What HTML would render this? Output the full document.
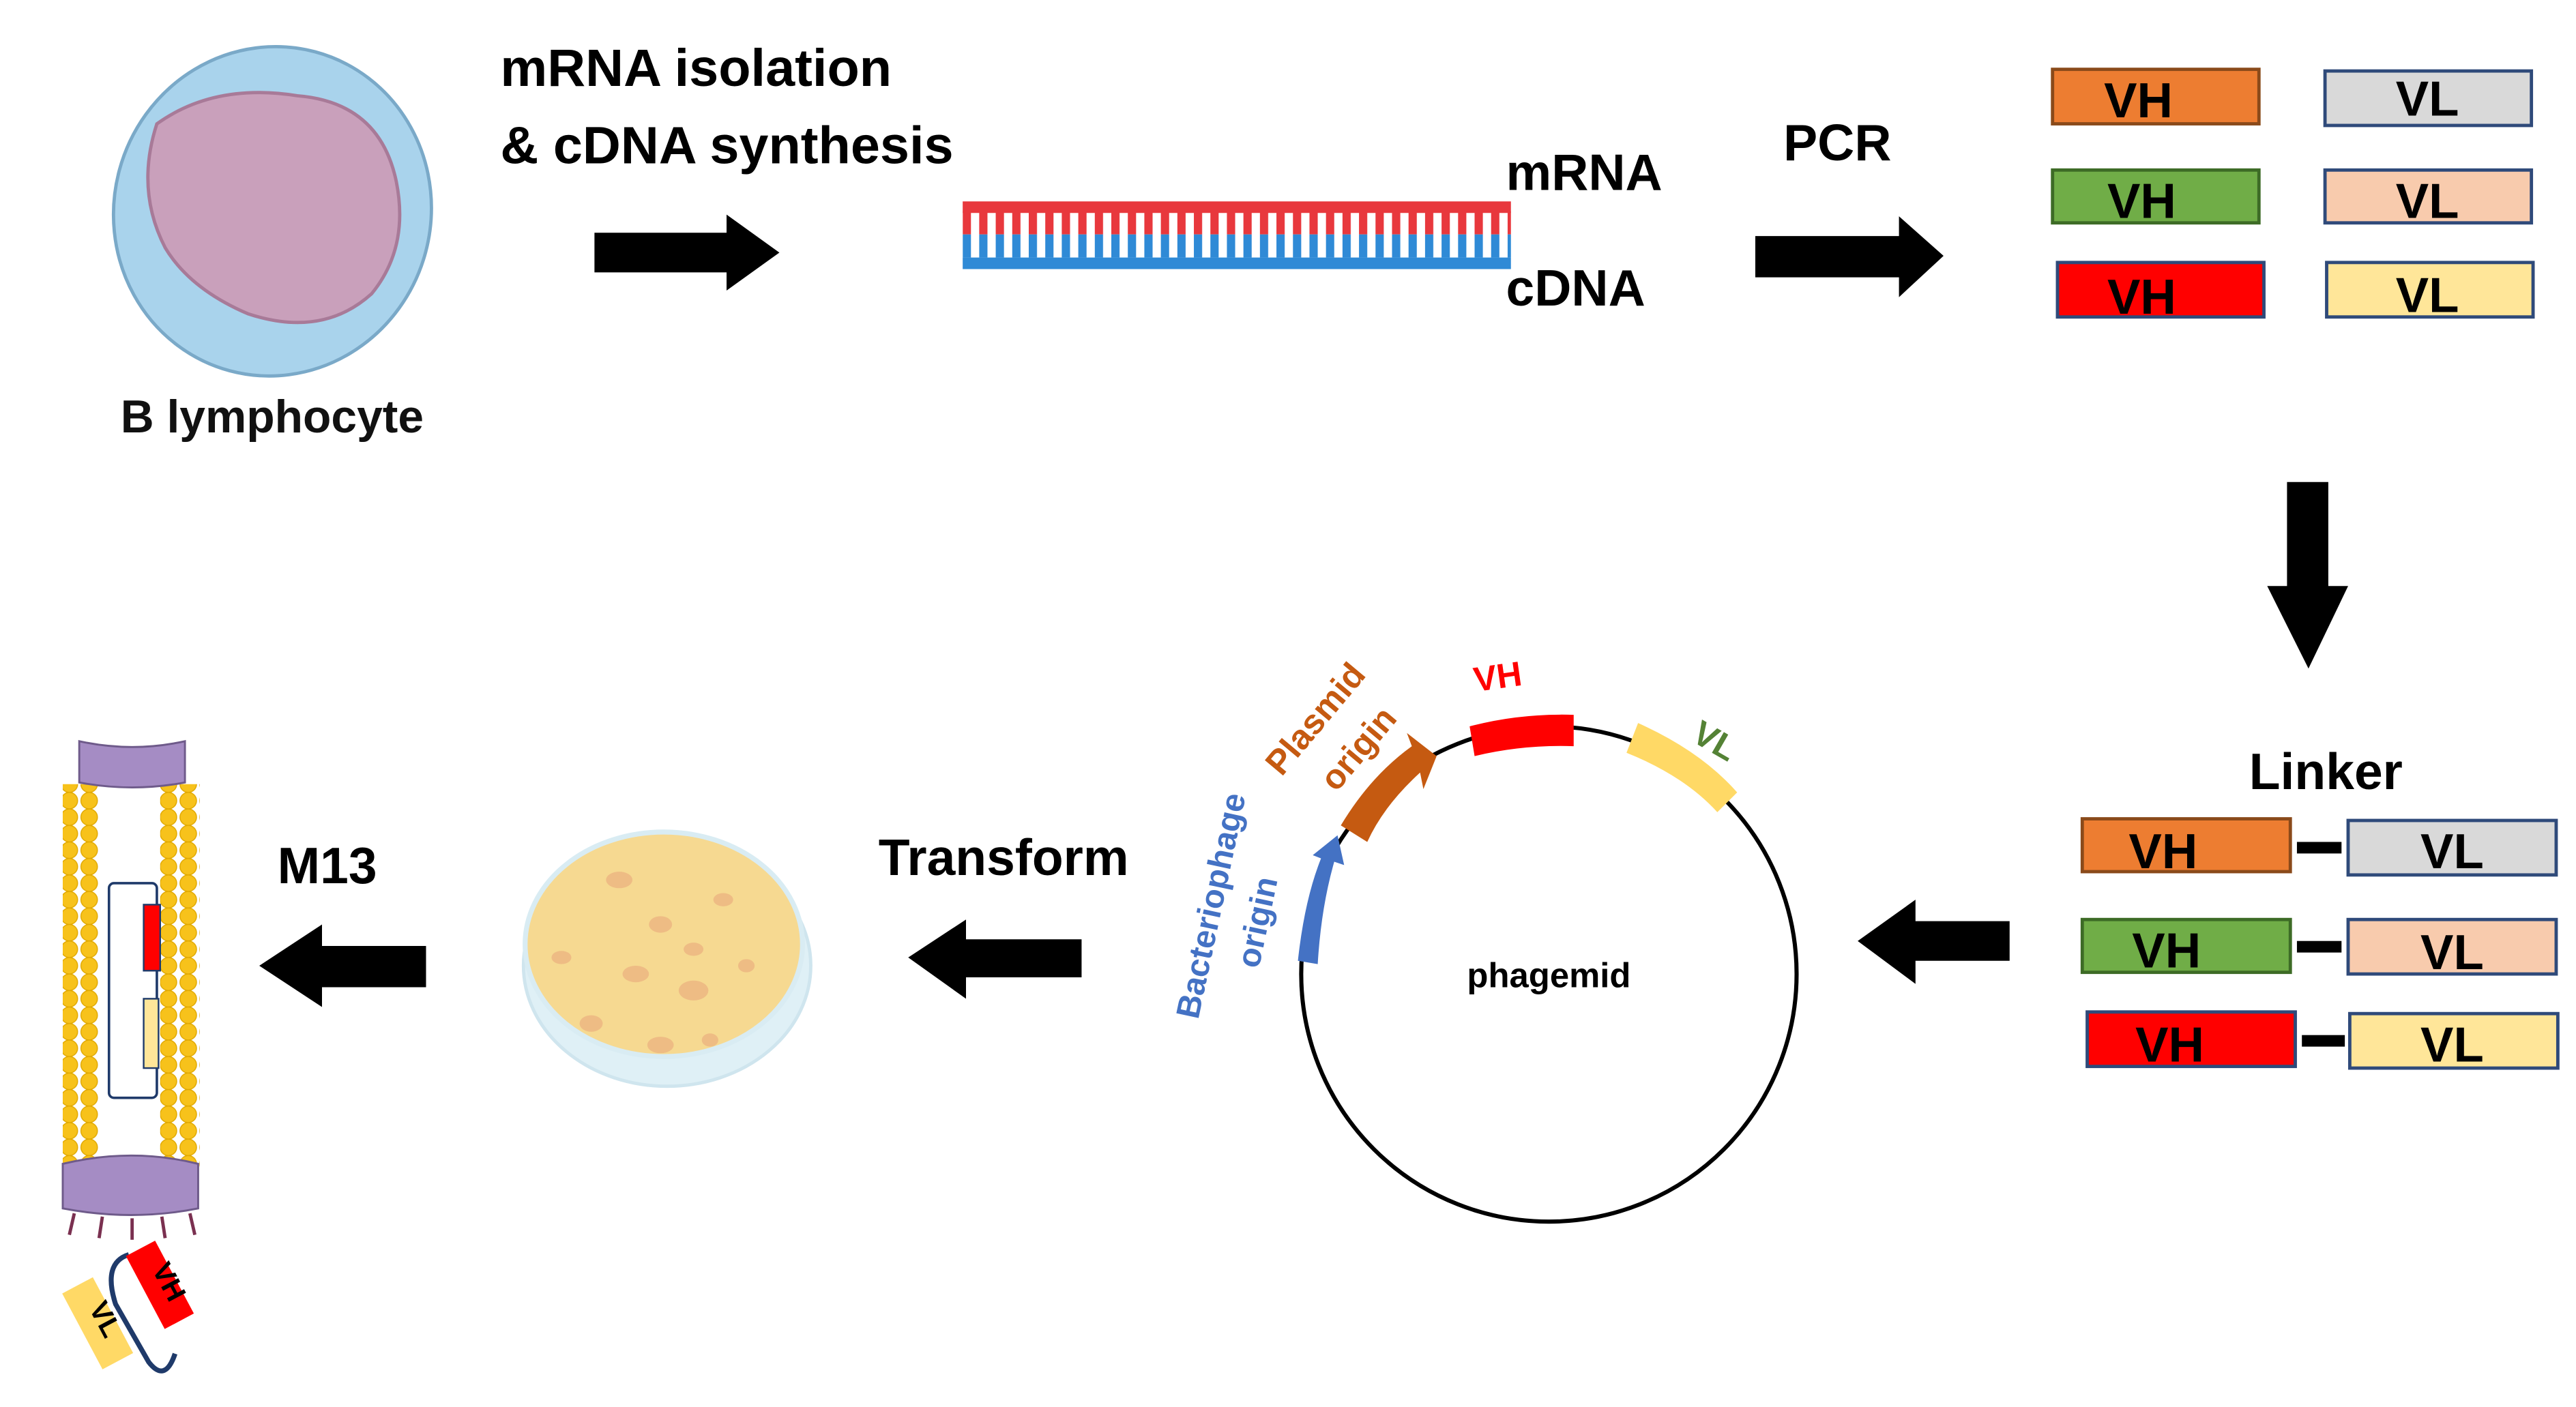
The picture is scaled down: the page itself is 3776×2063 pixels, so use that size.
<!DOCTYPE html>
<html><head><meta charset="utf-8"><style>
html,body{margin:0;padding:0;background:#fff;}
svg{display:block;}
text{font-family:"Liberation Sans",sans-serif;font-weight:bold;}
</style></head><body>
<svg width="3776" height="2063" viewBox="0 0 1560 852.3" preserveAspectRatio="none" xmlns="http://www.w3.org/2000/svg">
<defs>
<pattern id="teethR" x="583" y="0" width="10" height="40" patternUnits="userSpaceOnUse">
<rect x="0" y="0" width="5" height="40" fill="#e8383d"/>
</pattern>
<pattern id="teethB" x="583" y="0" width="10" height="40" patternUnits="userSpaceOnUse">
<rect x="0" y="0" width="5" height="40" fill="#2f8ad6"/>
</pattern>
<pattern id="beads" x="0" y="0" width="12" height="10" patternUnits="userSpaceOnUse">
<circle cx="6" cy="5" r="5" fill="#f7c21b" stroke="#e0a800" stroke-width="0.6"/>
</pattern>
</defs>
<rect width="1560" height="852.3" fill="#fff"/>

<!-- B lymphocyte -->
<ellipse cx="165" cy="128" rx="96" ry="100" fill="#a9d3ec" stroke="#7aa9c8" stroke-width="2" transform="rotate(15 165 128)"/>
<path d="M95 75 Q130 50 180 58 Q230 62 240 110 Q248 150 225 178 Q195 205 150 190 Q115 175 100 150 Q82 115 95 75Z" fill="#c9a0bb" stroke="#a87a98" stroke-width="2"/>
<text x="73" y="262" font-size="28" fill="#111">B lymphocyte</text>

<text x="303" y="52" font-size="32" fill="#000">mRNA isolation</text>
<text x="303" y="99" font-size="32" fill="#000">&amp; cDNA synthesis</text>

<polygon points="360,141 440,141 440,130 472,153 440,176 440,165 360,165" fill="#000"/>

<!-- DNA -->
<rect x="583" y="122" width="332" height="7" fill="#e8383d"/>
<rect x="583" y="128" width="332" height="14" fill="url(#teethR)"/>
<rect x="583" y="142" width="332" height="14" fill="url(#teethB)"/>
<rect x="583" y="156" width="332" height="7" fill="#2f8ad6"/>
<text x="912" y="115" font-size="31" fill="#000">mRNA</text>
<text x="912" y="185" font-size="31" fill="#000">cDNA</text>

<text x="1080" y="97" font-size="31" fill="#000">PCR</text>
<polygon points="1063,143 1150,143 1150,131 1177,155 1150,180 1150,168 1063,168" fill="#000"/>

<g stroke-width="2" font-size="30" text-anchor="middle">
<rect x="1243" y="42" width="125" height="33" fill="#ed7d31" stroke="#8a4a1a"/>
<rect x="1408" y="43" width="125" height="33" fill="#d9d9d9" stroke="#2f4a7a"/>
<rect x="1243" y="103" width="125" height="32" fill="#70ad47" stroke="#3d6b26"/>
<rect x="1408" y="103" width="125" height="32" fill="#f8cbad" stroke="#2f4a7a"/>
<rect x="1246" y="159" width="125" height="33" fill="#ff0000" stroke="#2f4a7a"/>
<rect x="1409" y="159" width="125" height="33" fill="#ffe699" stroke="#2f4a7a"/>
<text x="1295" y="71" fill="#000" stroke="none">VH</text>
<text x="1470" y="70" fill="#000" stroke="none">VL</text>
<text x="1297" y="132" fill="#000" stroke="none">VH</text>
<text x="1470" y="132" fill="#000" stroke="none">VL</text>
<text x="1297" y="190" fill="#000" stroke="none">VH</text>
<text x="1470" y="189" fill="#000" stroke="none">VL</text>
</g>

<polygon points="1385,292 1410,292 1410,355 1422,355 1398,405 1373,355 1385,355" fill="#000"/>

<text x="1362" y="478" font-size="31" fill="#000">Linker</text>
<g stroke-width="2" font-size="30" text-anchor="middle">
<rect x="1261" y="496" width="126" height="32" fill="#ed7d31" stroke="#8a4a1a"/>
<rect x="1422" y="497" width="126" height="33" fill="#d9d9d9" stroke="#2f4a7a"/>
<rect x="1391" y="510" width="27" height="7" fill="#000" stroke="none"/>
<rect x="1261" y="557" width="126" height="32" fill="#70ad47" stroke="#3d6b26"/>
<rect x="1422" y="557" width="126" height="33" fill="#f8cbad" stroke="#2f4a7a"/>
<rect x="1391" y="570" width="27" height="7" fill="#000" stroke="none"/>
<rect x="1264" y="613" width="126" height="33" fill="#ff0000" stroke="#2f4a7a"/>
<rect x="1423" y="614" width="126" height="33" fill="#ffe699" stroke="#2f4a7a"/>
<rect x="1394" y="627" width="26" height="7" fill="#000" stroke="none"/>
<text x="1310" y="526" fill="#000" stroke="none">VH</text>
<text x="1485" y="526" fill="#000" stroke="none">VL</text>
<text x="1312" y="586" fill="#000" stroke="none">VH</text>
<text x="1485" y="587" fill="#000" stroke="none">VL</text>
<text x="1314" y="643" fill="#000" stroke="none">VH</text>
<text x="1485" y="643" fill="#000" stroke="none">VL</text>
</g>

<polygon points="1125,570 1160,545 1160,558 1217,558 1217,582 1160,582 1160,596" fill="#000"/>

<circle cx="938" cy="590" r="150" fill="none" stroke="#000" stroke-width="2.5"/>
<path d="M890 440 Q920 432 953 433 L953 452 Q922 451 893 458Z" fill="#ff0000"/>
<path d="M992 438 Q1030 455 1052 480 L1040 492 Q1020 470 985 456Z" fill="#ffd966"/>
<path d="M812 500 Q830 470 855 452 L852 444 L870 458 L862 478 L860 468 Q838 488 828 510Z" fill="#c55a11"/>
<path d="M786 582 Q790 545 800 520 L795 518 L810 506 L814 524 L808 522 Q800 550 798 584Z" fill="#4472c4"/>
<text x="938" y="598" font-size="21" fill="#000" text-anchor="middle">phagemid</text>
<text x="908" y="417" font-size="21" fill="#ff0000" text-anchor="middle" font-weight="normal" transform="rotate(-8 908 417)">VH</text>
<text x="1035" y="455" font-size="21" fill="#548235" text-anchor="middle" transform="rotate(30 1035 455)">VL</text>
<text x="802" y="440" font-size="21" fill="#c55a11" text-anchor="middle" transform="rotate(-50 802 440)">Plasmid</text>
<text x="828" y="458" font-size="21" fill="#c55a11" text-anchor="middle" transform="rotate(-50 828 458)">origin</text>
<text x="740" y="550" font-size="20" fill="#4472c4" text-anchor="middle" transform="rotate(-78 740 550)">Bacteriophage</text>
<text x="768" y="560" font-size="20" fill="#4472c4" text-anchor="middle" transform="rotate(-78 768 560)">origin</text>

<text x="532" y="530" font-size="31" fill="#000">Transform</text>
<polygon points="550,580 585,557 585,569 655,569 655,592 585,592 585,605" fill="#000"/>

<ellipse cx="404" cy="585" rx="87" ry="73" fill="#dff0f6" stroke="#cfe5ee" stroke-width="2"/>
<ellipse cx="402" cy="572" rx="84" ry="68" fill="#f6d991" stroke="#d9ecf3" stroke-width="3"/>
<g fill="#eebc84">
<ellipse cx="375" cy="533" rx="8" ry="5"/><ellipse cx="400" cy="560" rx="7" ry="5"/><ellipse cx="438" cy="545" rx="6" ry="4"/>
<ellipse cx="385" cy="590" rx="8" ry="5"/><ellipse cx="420" cy="600" rx="9" ry="6"/><ellipse cx="358" cy="620" rx="7" ry="5"/>
<ellipse cx="400" cy="633" rx="8" ry="5"/><ellipse cx="452" cy="585" rx="5" ry="4"/><ellipse cx="340" cy="580" rx="6" ry="4"/>
<ellipse cx="430" cy="630" rx="5" ry="4"/><ellipse cx="420" cy="575" rx="6" ry="4"/>
</g>

<text x="168" y="535" font-size="31" fill="#000">M13</text>
<polygon points="157,585 195,560 195,573 258,573 258,598 195,598 195,610" fill="#000"/>

<rect x="38" y="475" width="22" height="232" fill="url(#beads)"/>
<rect x="97" y="475" width="24" height="232" fill="url(#beads)"/>
<path d="M48 449 Q80 456 112 449 L112 474 Q80 480 48 474Z" fill="#a58cc4" stroke="#6e5a8a" stroke-width="1.2"/>
<rect x="66" y="535" width="29" height="130" rx="3" fill="#fff" stroke="#1f3a6a" stroke-width="1.5"/>
<rect x="87" y="548" width="10" height="40" fill="#ff0000" stroke="#1f3a6a" stroke-width="1"/>
<rect x="87" y="605" width="9" height="42" fill="#ffe699" stroke="#1f3a6a" stroke-width="1"/>
<path d="M38 705 Q80 695 120 705 L120 732 Q80 740 38 732Z" fill="#a58cc4" stroke="#6e5a8a" stroke-width="1.2"/>
<g stroke="#7a3050" stroke-width="2">
<line x1="45" y1="735" x2="42" y2="748"/><line x1="62" y1="737" x2="60" y2="750"/><line x1="80" y1="738" x2="80" y2="751"/><line x1="98" y1="737" x2="100" y2="750"/><line x1="115" y1="735" x2="118" y2="748"/>
</g>
<path d="M78 760 Q62 765 70 790 L90 825 Q100 838 106 820" fill="none" stroke="#1f3a6a" stroke-width="3"/>
<g transform="rotate(-28 100 780)"><rect x="88" y="752" width="20" height="50" fill="#ff0000"/><text x="98" y="770" font-size="17" fill="#000" text-anchor="middle" transform="rotate(90 98 770)" dx="8">VH</text></g>
<g transform="rotate(-28 60 800)"><rect x="48" y="775" width="21" height="52" fill="#ffd966"/><text x="58" y="795" font-size="17" fill="#000" text-anchor="middle" transform="rotate(90 58 795)" dx="6">VL</text></g>
</svg>
</body></html>
